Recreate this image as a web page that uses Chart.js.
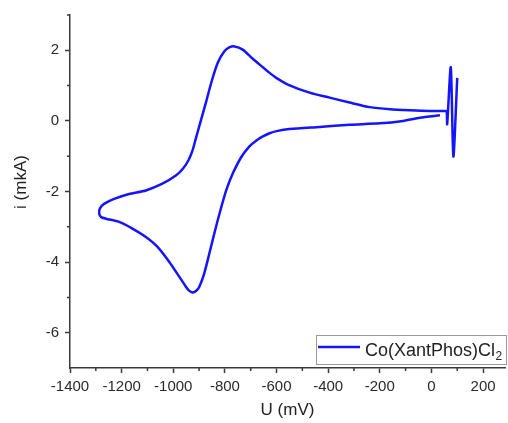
<!DOCTYPE html>
<html>
<head>
<meta charset="utf-8">
<script src="https://cdn.jsdelivr.net/npm/chart.js@4.4.1/dist/chart.umd.min.js"></script>
<style>
  html, body { margin: 0; padding: 0; background: #fff; }
  #wrap { width: 508px; height: 423px; }
</style>
</head>
<body>
<div id="wrap"><canvas id="cv"></canvas></div>
<script>
// cyclic voltammogram (mV / mA)
const potential = [
  33, -45, -110, -200, -317, -433, -550, -600, -627, -653, -679, -705, -737, -770,
  -795, -821, -841, -860, -880, -899, -912, -925, -940, -951, -977, -1016, -1061,
  -1106, -1158, -1210, -1261, -1280, -1287, -1284, -1268, -1229, -1171, -1106, -1042,
  -990, -962, -940, -925, -913, -897, -872, -851, -828, -802, -783, -763, -731, -692, -653,
  -627, -601, -556, -472, -394, -317, -239, -161, -83, -6, 52, 59, 61, 75, 85, 100
];
const current = [
  0.16, 0.09, 0.0, -0.07, -0.11, -0.17, -0.23, -0.29, -0.35, -0.44, -0.56, -0.72, -1.03, -1.50,
  -1.97, -2.63, -3.19, -3.75, -4.32, -4.70, -4.82, -4.86, -4.80, -4.70, -4.41, -3.99, -3.57,
  -3.29, -3.05, -2.86, -2.77, -2.72, -2.62, -2.48, -2.35, -2.21, -2.07, -1.97, -1.78,
  -1.55, -1.35, -1.10, -0.83, -0.51, -0.09, 0.56, 1.13, 1.64, 1.97, 2.08, 2.11, 2.02, 1.76, 1.52,
  1.36, 1.22, 1.03, 0.80, 0.66, 0.52, 0.39, 0.33, 0.30, 0.28, 0.28, 0.27, -0.09, 1.52, -1.01, 1.22
];

const xTicks = [-1400, -1200, -1000, -800, -600, -400, -200, 0, 200];
const xMinorTicks = [-1300, -1100, -900, -700, -500, -300, -100, 100];
const yTicks = [-6, -4, -2, 0, 2];
const yMinorTicks = [-5, -3, -1, 1, 3];

const seriesName = "Co(XantPhos)Cl";
const seriesSub = "2";
const xTitle = "U (mV)";
const yTitle = "i (mkA)";

const axisColor = "#3a3a3a";
const lineColor = "rgb(20, 20, 255)";
const fontFamily = "'Liberation Sans', Arial, sans-serif";

const decorations = {
  id: "decorations",
  afterDraw(chart) {
    const { ctx, chartArea, scales } = chart;
    ctx.save();

    // minor ticks
    ctx.strokeStyle = axisColor;
    ctx.lineWidth = 1.5;
    ctx.beginPath();
    xMinorTicks.forEach((v) => {
      const px = scales.x.getPixelForValue(v);
      ctx.moveTo(px, chartArea.bottom);
      ctx.lineTo(px, chartArea.bottom + 3);
    });
    yMinorTicks.forEach((v) => {
      const py = scales.y.getPixelForValue(v);
      ctx.moveTo(chartArea.left, py);
      ctx.lineTo(chartArea.left - 3, py);
    });
    ctx.stroke();

    // y title
    ctx.save();
    ctx.translate(21, 182);
    ctx.rotate(-Math.PI / 2);
    ctx.font = `17px ${fontFamily}`;
    ctx.fillStyle = "#222";
    ctx.textAlign = "center";
    ctx.textBaseline = "middle";
    ctx.fillText(yTitle, 0, 0);
    ctx.restore();

    // legend box, bottom right inside the plot
    const bw = 190;
    const bh = 29;
    const bx = chartArea.right - 189;
    const by = chartArea.bottom - 33;
    ctx.fillStyle = "#fff";
    ctx.fillRect(bx, by, bw, bh);
    ctx.strokeStyle = "#9a9a9a";
    ctx.lineWidth = 1;
    ctx.strokeRect(bx + 0.5, by + 0.5, bw, bh);

    ctx.strokeStyle = lineColor;
    ctx.lineWidth = 2.5;
    ctx.beginPath();
    ctx.moveTo(bx + 2, by + 12);
    ctx.lineTo(bx + 44, by + 12);
    ctx.stroke();

    ctx.fillStyle = "#222";
    ctx.textAlign = "left";
    ctx.textBaseline = "alphabetic";
    ctx.font = `18px ${fontFamily}`;
    const tx = bx + 49;
    ctx.fillText(seriesName, tx, by + 21);
    const w = ctx.measureText(seriesName).width;
    ctx.font = `12px ${fontFamily}`;
    ctx.fillText(seriesSub, tx + w + 0.5, by + 25);

    ctx.restore();
  }
};

const points = potential.map((x, i) => ({ x, y: current[i] }));

new Chart(document.getElementById("cv"), {
  type: "scatter",
  data: {
    datasets: [
      {
        label: seriesName + "\u2082",
        data: points,
        showLine: true,
        borderColor: lineColor,
        borderWidth: 2.5,
        pointRadius: 0,
        tension: 0.25
      }
    ]
  },
  options: {
    responsive: true,
    maintainAspectRatio: false,
    animation: false,
    layout: { padding: { top: 14, right: 3, left: 0, bottom: 0 } },
    plugins: {
      legend: { display: false },
      tooltip: { enabled: false }
    },
    scales: {
      x: {
        type: "linear",
        min: -1400,
        max: 285,
        afterFit: (s) => { s.height = 55; },
        afterBuildTicks: (s) => { s.ticks = xTicks.map((value) => ({ value })); },
        border: { display: true, color: axisColor, width: 1.5 },
        grid: { display: true, drawOnChartArea: false, drawTicks: true, tickLength: 5, tickColor: axisColor, tickWidth: 1.5 },
        ticks: {
          color: "#2a2a2a",
          font: { family: fontFamily, size: 15 },
          padding: 5,
          maxRotation: 0,
          autoSkip: false,
          callback: (value) => String(value)
        },
        title: { display: true, text: xTitle, color: "#222", font: { family: fontFamily, size: 17 }, padding: { top: 0, bottom: 2 } }
      },
      y: {
        type: "linear",
        min: -7,
        max: 3,
        afterFit: (s) => { s.width = 70; },
        afterBuildTicks: (s) => { s.ticks = yTicks.map((value) => ({ value })); },
        border: { display: true, color: axisColor, width: 1.5 },
        grid: { display: true, drawOnChartArea: false, drawTicks: true, tickLength: 5, tickColor: axisColor, tickWidth: 1.5 },
        ticks: {
          color: "#2a2a2a",
          font: { family: fontFamily, size: 15 },
          padding: 6,
          autoSkip: false,
          callback: (value) => String(value)
        },
        title: { display: false }
      }
    }
  },
  plugins: [decorations]
});
</script>
</body>
</html>
